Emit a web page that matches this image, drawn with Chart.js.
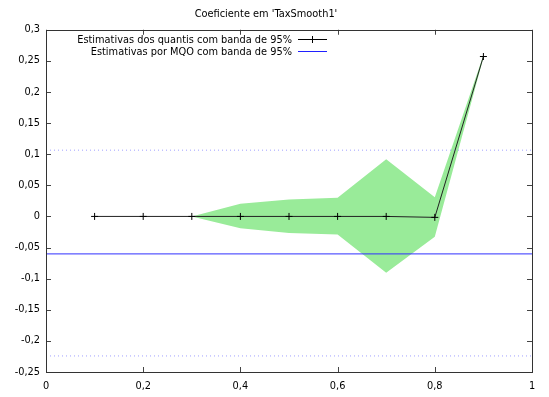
<!DOCTYPE html>
<html>
<head>
<meta charset="utf-8">
<script src="https://cdn.jsdelivr.net/npm/chart.js@4"></script>
<style>
  html, body { margin: 0; padding: 0; background: #fff; }
  #wrap { width: 549px; height: 397px; }
</style>
</head>
<body>
<div id="wrap"><canvas id="grafico" width="549" height="397"></canvas></div>
<script>
// quantis e estimativas
const quantis = [0.1, 0.2, 0.3, 0.4, 0.5, 0.6, 0.7, 0.8, 0.9];
const estimativas = [0, 0, 0, 0, 0, 0, 0, -0.0015, 0.257];
const bandaSup = [0, 0, 0, 0.0205, 0.0273, 0.0302, 0.092, 0.031, 0.259];
const bandaInf = [0, 0, 0, -0.0188, -0.0268, -0.029, -0.0906, -0.0325, 0.255];

// MQO e banda de 95%
const mqo = -0.0602;
const mqoSup = 0.1065;
const mqoInf = -0.2242;

const yTicks = [0.3, 0.25, 0.2, 0.15, 0.1, 0.05, 0, -0.05, -0.1, -0.15, -0.2, -0.25];
const xTicks = [0, 0.2, 0.4, 0.6, 0.8, 1];

const fonte = "DejaVu Sans";
const tamFonte = 9.8;
const virgula = (v) => String(Math.round(v * 100) / 100).replace(".", ",");

function pontos(ys) {
  return quantis.map((q, i) => ({ x: q, y: ys[i] }));
}
function horizontal(v) {
  return [{ x: 0, y: v }, { x: 1, y: v }];
}

// ticks para dentro, estilo gnuplot, nos quatro lados
const ticksDentro = {
  id: "ticksDentro",
  afterDatasetsDraw(chart) {
    const { ctx, chartArea: a, scales } = chart;
    ctx.save();
    ctx.strokeStyle = "#444";
    ctx.lineWidth = 1;
    ctx.beginPath();
    yTicks.forEach((v) => {
      const y = Math.round(scales.y.getPixelForValue(v)) + 0.5;
      ctx.moveTo(a.left, y); ctx.lineTo(a.left + 5, y);
      ctx.moveTo(a.right, y); ctx.lineTo(a.right - 5, y);
    });
    xTicks.forEach((v) => {
      const x = Math.round(scales.x.getPixelForValue(v)) + 0.5;
      ctx.moveTo(x, a.bottom); ctx.lineTo(x, a.bottom - 5);
      ctx.moveTo(x, a.top); ctx.lineTo(x, a.top + 5);
    });
    ctx.stroke();
    ctx.strokeStyle = "#333";
    ctx.strokeRect(Math.round(a.left) + 0.5, Math.round(a.top) + 0.5,
      Math.round(a.right - a.left), Math.round(a.bottom - a.top));
    ctx.restore();
  },
};

// legenda à maneira do gnuplot: texto alinhado à direita e amostra da linha
const legenda = {
  id: "legenda",
  afterDraw(chart) {
    const { ctx } = chart;
    const itens = [
      { texto: "Estimativas dos quantis com banda de 95%", cor: "#000", marca: true },
      { texto: "Estimativas por MQO com banda de 95%", cor: "#2020ff", marca: false },
    ];
    ctx.save();
    ctx.font = tamFonte + "px '" + fonte + "'";
    ctx.textAlign = "right";
    ctx.textBaseline = "middle";
    itens.forEach((it, i) => {
      const y = 39 + i * 12;
      ctx.fillStyle = "#000";
      ctx.fillText(it.texto, 292, y + 1);
      ctx.strokeStyle = it.cor;
      ctx.lineWidth = 1;
      ctx.beginPath();
      ctx.moveTo(298, y + 0.5); ctx.lineTo(327, y + 0.5);
      if (it.marca) {
        ctx.moveTo(312.5, y - 3); ctx.lineTo(312.5, y + 4);
      }
      ctx.stroke();
    });
    ctx.restore();
  },
};

new Chart(document.getElementById("grafico"), {
  type: "line",
  data: {
    datasets: [
      {
        label: "Estimativas dos quantis com banda de 95%",
        data: pontos(estimativas),
        order: 0,
        borderColor: "#222",
        borderWidth: 1,
        pointStyle: "cross",
        pointRadius: 3.5,
        pointBorderColor: "#000",
        pointBorderWidth: 1,
        fill: false,
        tension: 0,
      },
      {
        label: "MQO",
        data: horizontal(mqo),
        order: 1,
        borderColor: "#3030ff",
        borderWidth: 1,
        pointRadius: 0,
        fill: false,
      },
      {
        label: "MQO sup",
        data: horizontal(mqoSup),
        order: 1,
        borderColor: "#a0a0ff",
        borderWidth: 1,
        borderDash: [1, 3],
        pointRadius: 0,
        fill: false,
      },
      {
        label: "MQO inf",
        data: horizontal(mqoInf),
        order: 1,
        borderColor: "#a0a0ff",
        borderWidth: 1,
        borderDash: [1, 3],
        pointRadius: 0,
        fill: false,
      },
      {
        label: "banda inf",
        data: pontos(bandaInf),
        order: 2,
        borderWidth: 0,
        pointRadius: 0,
        fill: false,
        tension: 0,
      },
      {
        label: "banda sup",
        data: pontos(bandaSup),
        order: 2,
        borderWidth: 0,
        pointRadius: 0,
        backgroundColor: "rgb(153, 235, 153)",
        fill: "-1",
        tension: 0,
      },
    ],
  },
  options: {
    responsive: false,
    animation: false,
    layout: { padding: { top: 0, right: 17, bottom: 0, left: 0 } },
    plugins: {
      legend: { display: false },
      tooltip: { enabled: false },
      title: {
        display: true,
        text: "Coeficiente em 'TaxSmooth1'",
        color: "#000",
        font: { family: fonte, size: tamFonte, weight: "normal" },
        padding: { top: 9, bottom: 9 },
      },
    },
    scales: {
      x: {
        type: "linear",
        min: 0,
        max: 1,
        grid: { display: false, drawTicks: false },
        border: { display: false },
        afterBuildTicks: (s) => { s.ticks = xTicks.map((v) => ({ value: v })); },
        afterFit: (s) => { s.height = 25; },
        ticks: {
          color: "#000",
          padding: 9,
          font: { family: fonte, size: tamFonte },
          callback: (v) => virgula(v),
        },
      },
      y: {
        min: -0.25,
        max: 0.3,
        grid: { display: false, drawTicks: false },
        border: { display: false },
        afterBuildTicks: (s) => { s.ticks = yTicks.map((v) => ({ value: v })); },
        afterFit: (s) => { s.width = 46; },
        ticks: {
          color: "#000",
          padding: 6,
          font: { family: fonte, size: tamFonte },
          callback: (v) => virgula(v),
        },
      },
    },
  },
  plugins: [ticksDentro, legenda],
});
</script>
</body>
</html>
